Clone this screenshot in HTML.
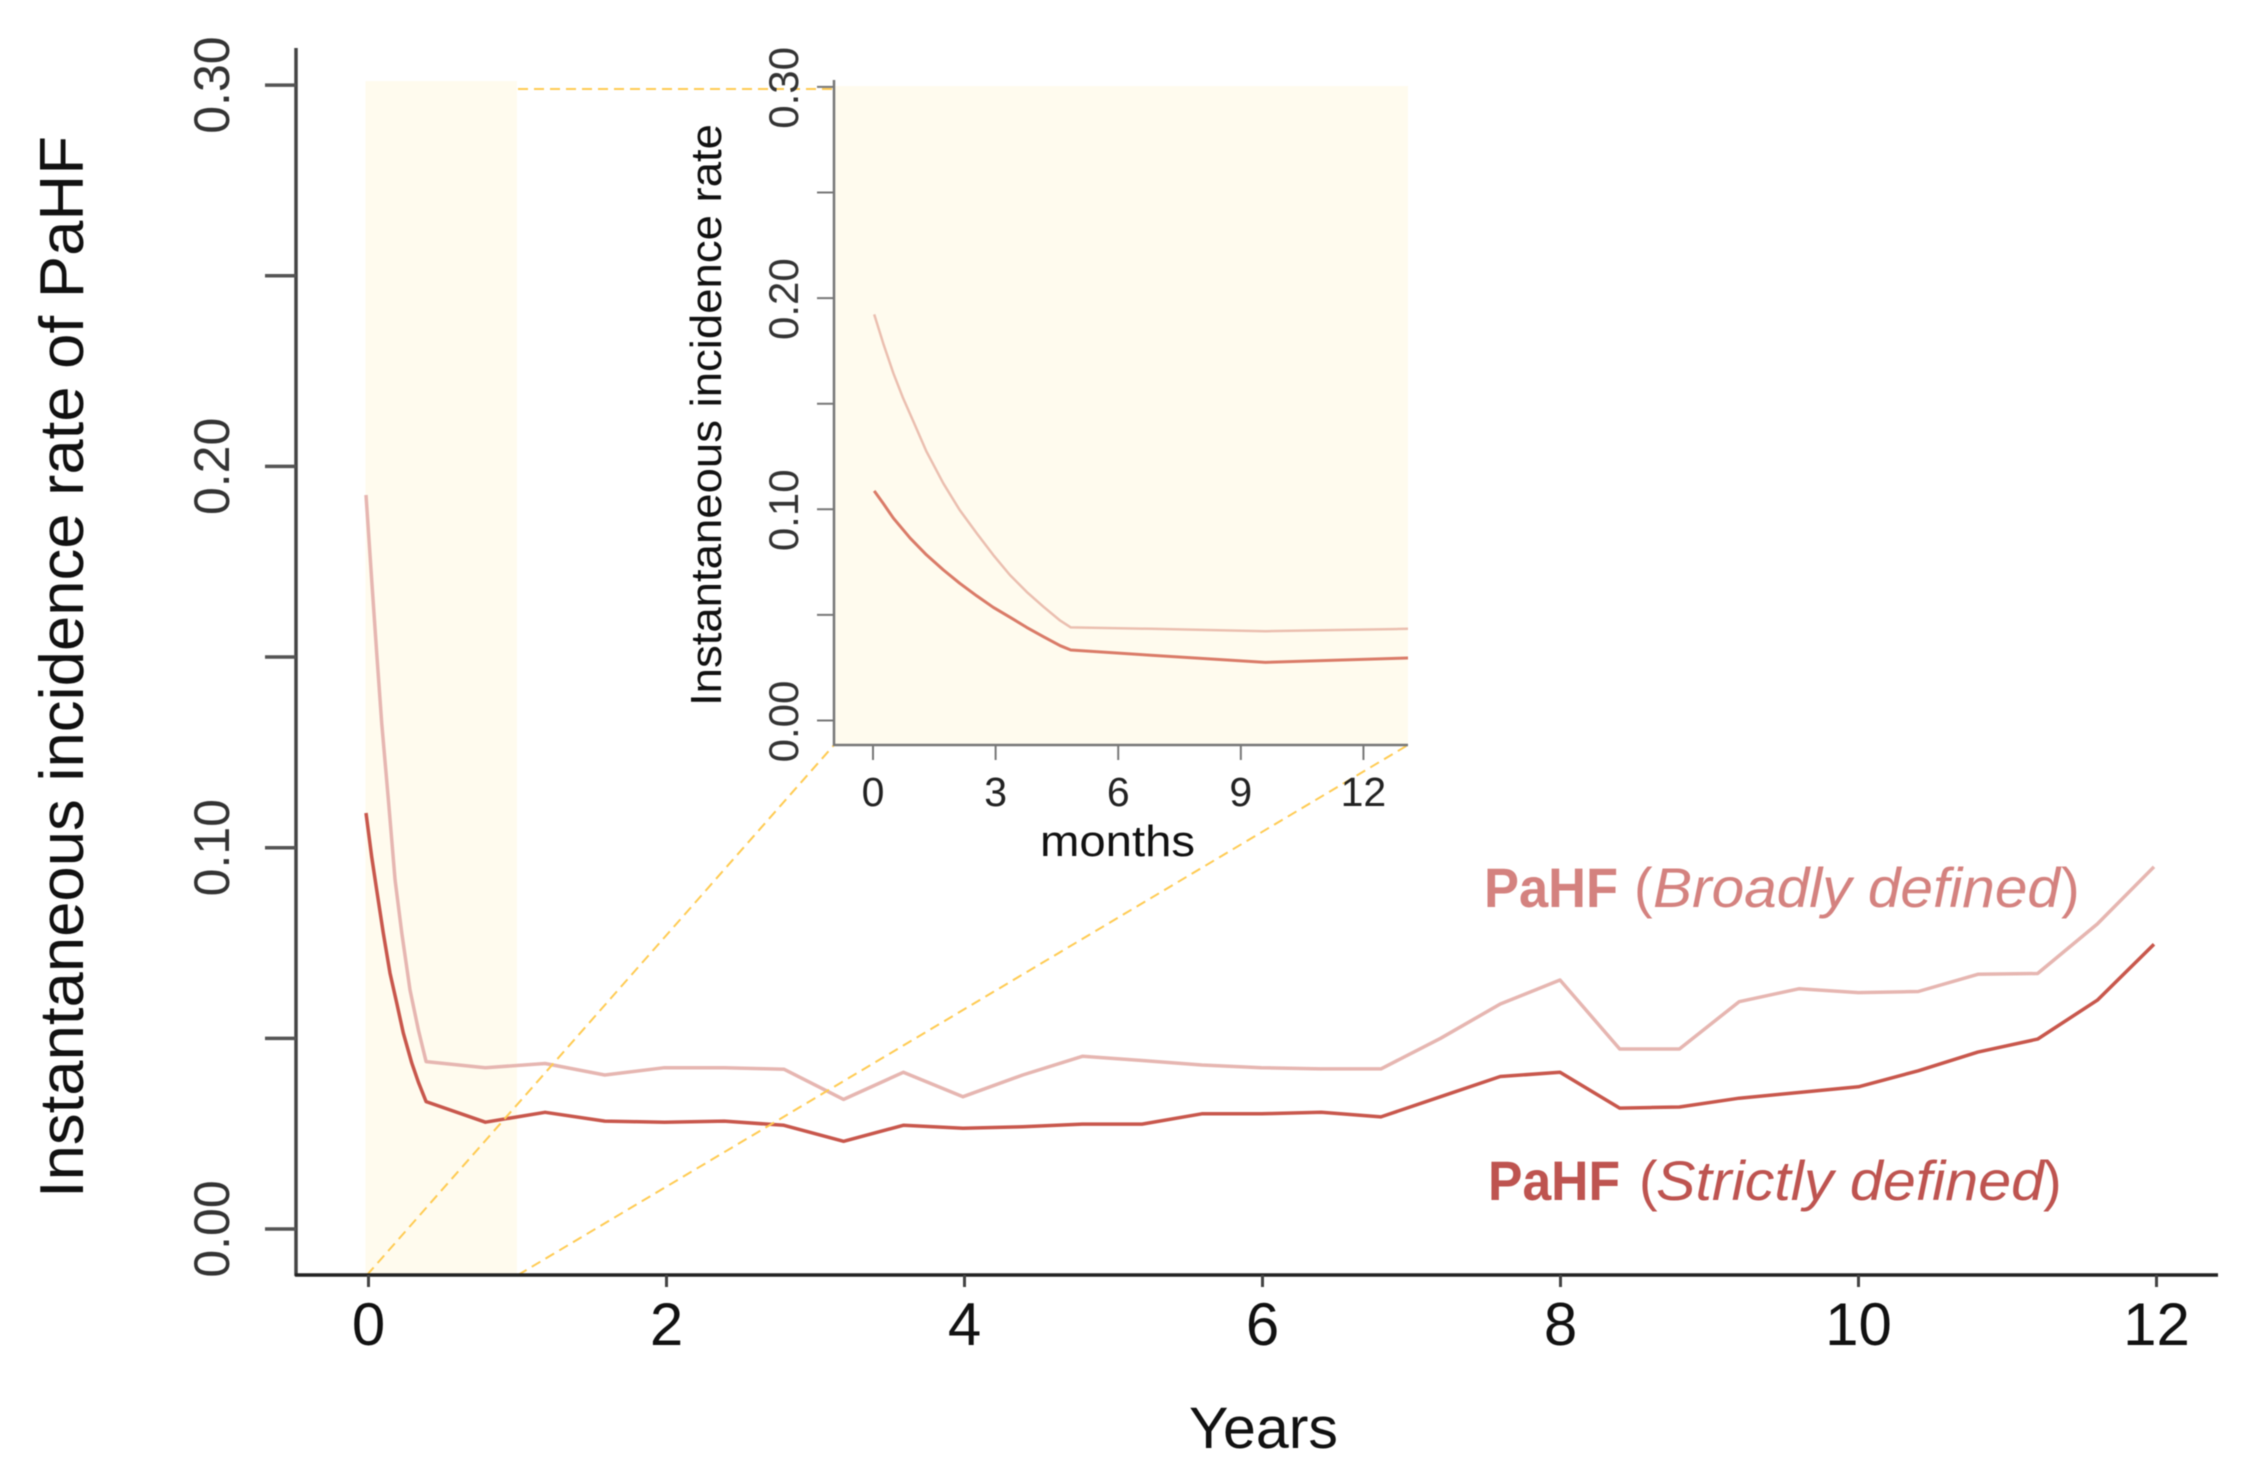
<!DOCTYPE html>
<html lang="en">
<head>
<meta charset="utf-8">
<title>Instantaneous incidence rate of PaHF</title>
<style>
html,body{margin:0;padding:0;background:#fff;}
svg{display:block;filter:blur(0.5px);}
text{font-family:"Liberation Sans",sans-serif;}
</style>
</head>
<body>
<svg id="chart" xmlns="http://www.w3.org/2000/svg" width="2262" height="1477" viewBox="0 0 2262 1477">
  <defs>
    <clipPath id="inset-clip"><rect x="834" y="80" width="574" height="665"/></clipPath>
  </defs>
  <g id="shade"></g>
  <g id="main-lines"></g>
  <g id="inset-bg"></g>
  <g id="inset-lines" clip-path="url(#inset-clip)"></g>
  <g id="zoom-guides"></g>
  <g id="axes"></g>

  <text transform="translate(83 1198) rotate(-90)" font-size="62" textLength="1062" lengthAdjust="spacingAndGlyphs" fill="#111">Instantaneous incidence rate of PaHF</text>
  <text x="1189" y="1448" font-size="58" textLength="149" lengthAdjust="spacingAndGlyphs" fill="#111">Years</text>
  <text transform="translate(721 706) rotate(-90)" font-size="44" textLength="582" lengthAdjust="spacingAndGlyphs" fill="#111">Instantaneous incidence rate</text>
  <text x="1040" y="856" font-size="44" textLength="155" lengthAdjust="spacingAndGlyphs" fill="#111">months</text>

  <g fill="#D4827F" font-size="56">
    <text x="1484" y="907" font-weight="bold" textLength="134" lengthAdjust="spacingAndGlyphs">PaHF</text>
    <text x="1634" y="907">(</text>
    <text x="1653" y="907" font-style="italic" textLength="407" lengthAdjust="spacingAndGlyphs">Broadly defined</text>
    <text x="2061" y="907">)</text>
  </g>
  <g fill="#BE5450" font-size="56">
    <text x="1488" y="1200" font-weight="bold" textLength="132" lengthAdjust="spacingAndGlyphs">PaHF</text>
    <text x="1639" y="1200">(</text>
    <text x="1656" y="1200" font-style="italic" textLength="388" lengthAdjust="spacingAndGlyphs">Strictly defined</text>
    <text x="2043" y="1200">)</text>
  </g>
</svg>
<script>
// Main chart data (years since diagnosis, incidence rate)
const mainBroadYears = [0,0.038,0.072,0.105,0.15,0.195,0.24,0.295,0.351,0.403,0.8,1.2,1.6,2,2.4,2.8,3.2,3.6,4,4.4,4.8,5.2,5.6,6,6.4,6.8,7.2,7.6,8,8.4,8.8,9.2,9.6,10,10.4,10.8,11.2,11.6,11.98];
const mainBroad = [0.1925,0.1702,0.1511,0.1327,0.1125,0.0915,0.0776,0.0627,0.0522,0.0439,0.0423,0.0434,0.0404,0.0423,0.0423,0.0419,0.034,0.0411,0.0347,0.0404,0.0453,0.0442,0.043,0.0423,0.042,0.042,0.05,0.059,0.0653,0.0472,0.0472,0.0596,0.063,0.062,0.0623,0.0668,0.067,0.08,0.095];
const mainStrictYears = [0,0.038,0.072,0.116,0.161,0.206,0.25,0.307,0.351,0.403,0.8,1.2,1.6,2,2.4,2.8,3.2,3.6,4,4.4,4.8,5.2,5.6,6,6.4,6.8,7.2,7.6,8,8.4,8.8,9.2,9.6,10,10.4,10.8,11.2,11.6,11.98];
const mainStrict = [0.1091,0.0976,0.0889,0.0776,0.0671,0.0593,0.0514,0.0435,0.0385,0.0334,0.028,0.0306,0.0283,0.028,0.0283,0.0272,0.023,0.0272,0.0264,0.0268,0.0275,0.0275,0.0302,0.0302,0.0306,0.0294,0.0347,0.04,0.0411,0.0317,0.032,0.0343,0.0358,0.0373,0.0415,0.0464,0.0498,0.06,0.0747];

// Inset chart data (months since diagnosis, incidence rate)
const insetBroadMonths = [0.03,0.25,0.5,0.74,0.99,1.31,1.72,2.12,2.54,2.94,3.35,3.76,4.17,4.58,4.84,6.8,9.6,13.1];
const insetBroad = [0.1923,0.1786,0.1644,0.1525,0.1415,0.1273,0.1123,0.0997,0.0886,0.0784,0.0689,0.0609,0.0539,0.0473,0.0441,0.0434,0.0423,0.0434];
const insetStrictMonths = [0.03,0.25,0.5,0.91,1.31,1.72,2.12,2.54,2.94,3.35,3.76,4.17,4.58,4.84,6.8,9.6,13.1];
const insetStrict = [0.1087,0.1028,0.0958,0.0863,0.0784,0.0713,0.065,0.059,0.0536,0.0489,0.0441,0.0397,0.0354,0.0334,0.0309,0.0275,0.0296];

// Tick values and labels
const mainXTicks = [0,2,4,6,8,10,12];
const mainYTicks = [0,0.05,0.1,0.15,0.2,0.25,0.3];
const mainYLabels = ["0.00","","0.10","","0.20","","0.30"];
const insetXTicks = [0,3,6,9,12];
const insetYTicks = [0,0.05,0.1,0.15,0.2,0.25,0.3];
const insetYLabels = ["0.00","","0.10","","0.20","","0.30"];

// Axis functions
function xMain(t){ return 368.5 + t * 149; }
function xLine(t){ return 366 + t * 149.25; }
function yMain(v){ return 1229 - v * 3813; }
function xInset(m){ return 873 + m * 40.87; }
function yInset(v){ return 720.5 - v * 2112; }

const NS = 'http://www.w3.org/2000/svg';
function make(tag, parent, attrs, txt){
  const el = document.createElementNS(NS, tag);
  for (const k in attrs) el.setAttribute(k, attrs[k]);
  if (txt !== undefined) el.textContent = txt;
  parent.appendChild(el);
  return el;
}
function pathFrom(xs, ys, fx, fy){
  return xs.map((x, i) => (i ? 'L' : 'M') + fx(x).toFixed(1) + ' ' + fy(ys[i]).toFixed(1)).join(' ');
}

const shade = document.getElementById('shade');
const mainLines = document.getElementById('main-lines');
const insetBg = document.getElementById('inset-bg');
const insetLines = document.getElementById('inset-lines');
const guides = document.getElementById('zoom-guides');
const axes = document.getElementById('axes');

// Highlight of first year
const band = make('rect', shade, {x: xMain(0) - 3, y: yMain(0.3) - 4, width: 151.5, height: 1275 - yMain(0.3) + 4, fill: '#FFFBEE'});



// Main series
const broadMainPath = make('path', mainLines, {d: pathFrom(mainBroadYears, mainBroad, xLine, yMain), fill: 'none', stroke: '#E6B6B1', 'stroke-width': 3.5, 'stroke-linejoin': 'round'});


const strictMainPath = make('path', mainLines, {d: pathFrom(mainStrictYears, mainStrict, xLine, yMain), fill: 'none', stroke: '#C8574C', 'stroke-width': 3.5, 'stroke-linejoin': 'round'});



// Inset background and series
const insetRect = make('rect', insetBg, {x: 834, y: 86, width: 574, height: 659, fill: '#FFFBEE'});


const broadInsetPath = make('path', insetLines, {d: pathFrom(insetBroadMonths, insetBroad, xInset, yInset), fill: 'none', stroke: '#EBBFB0', 'stroke-width': 2.5, 'stroke-linejoin': 'round'});


const strictInsetPath = make('path', insetLines, {d: pathFrom(insetStrictMonths, insetStrict, xInset, yInset), fill: 'none', stroke: '#DA7B68', 'stroke-width': 3, 'stroke-linejoin': 'round'});



// Zoom guide lines from the highlight to the inset
const guideStyle = {fill: 'none', stroke: '#FFCB52', 'stroke-width': 2, 'stroke-dasharray': '10 6'};
const guideTop = make('line', guides, Object.assign({x1: 518, y1: 89, x2: 834, y2: 89}, guideStyle));


const guideLeft = make('line', guides, Object.assign({x1: 367, y1: 1275, x2: 834, y2: 745}, guideStyle));


const guideRight = make('line', guides, Object.assign({x1: 518, y1: 1275, x2: 1408, y2: 745}, guideStyle));



// Main axes
const mainYAxis = make('line', axes, {x1: 296, y1: 48, x2: 296, y2: 1276, stroke: '#444', 'stroke-width': 3.5});


const mainXAxis = make('line', axes, {x1: 295, y1: 1275, x2: 2218, y2: 1275, stroke: '#222', 'stroke-width': 3.5});



mainYTicks.forEach((v, i) => {
  const tick = make('line', axes, {x1: 265, x2: 296, y1: yMain(v), y2: yMain(v), stroke: '#555', 'stroke-width': 3.5});
  
  
  if (mainYLabels[i]) {
    const label = make('text', axes, {transform: 'translate(229 ' + yMain(v) + ') rotate(-90)', 'font-size': 50, 'text-anchor': 'middle', fill: '#333'}, mainYLabels[i]);
    
    
  }
});
mainXTicks.forEach((t) => {
  const tick = make('line', axes, {x1: xMain(t), x2: xMain(t), y1: 1275, y2: 1287, stroke: '#444', 'stroke-width': 3});
  
  
  const label = make('text', axes, {x: xMain(t), y: 1345, 'font-size': 60, 'text-anchor': 'middle', fill: '#111'}, String(t));
  
  
});

// Inset axes
const insetYAxis = make('line', axes, {x1: 834, y1: 80, x2: 834, y2: 746, stroke: '#777', 'stroke-width': 2.5});


const insetXAxis = make('line', axes, {x1: 834, y1: 745, x2: 1408, y2: 745, stroke: '#777', 'stroke-width': 2.5});



insetYTicks.forEach((v, i) => {
  const tick = make('line', axes, {x1: 817, x2: 834, y1: yInset(v), y2: yInset(v), stroke: '#777', 'stroke-width': 2});
  
  
  if (insetYLabels[i]) {
    const label = make('text', axes, {transform: 'translate(798 ' + (yInset(v) + 1) + ') rotate(-90)', 'font-size': 42, 'text-anchor': 'middle', fill: '#333'}, insetYLabels[i]);
    
    
  }
});
insetXTicks.forEach((m) => {
  const tick = make('line', axes, {x1: xInset(m), x2: xInset(m), y1: 745, y2: 760, stroke: '#777', 'stroke-width': 2});
  
  
  const label = make('text', axes, {x: xInset(m), y: 806, 'font-size': 41, 'text-anchor': 'middle', fill: '#222'}, String(m));
  
  
});
</script>
</body>
</html>
